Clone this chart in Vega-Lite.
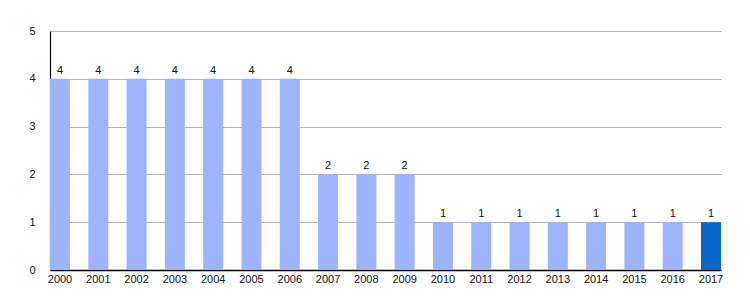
{
  "$schema": "https://vega.github.io/schema/vega-lite/v6.json",
  "width": 671,
  "height": 239,
  "autosize": {"type": "none"},
  "padding": {"left": 50, "top": 31, "right": 29, "bottom": 30},
  "background": "white",
  "config": {"view": {"stroke": null}, "font": "Liberation Sans"},
  "data": {
    "values": [
      {"year": "2000", "count": 4, "highlight": "no"},
      {"year": "2001", "count": 4, "highlight": "no"},
      {"year": "2002", "count": 4, "highlight": "no"},
      {"year": "2003", "count": 4, "highlight": "no"},
      {"year": "2004", "count": 4, "highlight": "no"},
      {"year": "2005", "count": 4, "highlight": "no"},
      {"year": "2006", "count": 4, "highlight": "no"},
      {"year": "2007", "count": 2, "highlight": "no"},
      {"year": "2008", "count": 2, "highlight": "no"},
      {"year": "2009", "count": 2, "highlight": "no"},
      {"year": "2010", "count": 1, "highlight": "no"},
      {"year": "2011", "count": 1, "highlight": "no"},
      {"year": "2012", "count": 1, "highlight": "no"},
      {"year": "2013", "count": 1, "highlight": "no"},
      {"year": "2014", "count": 1, "highlight": "no"},
      {"year": "2015", "count": 1, "highlight": "no"},
      {"year": "2016", "count": 1, "highlight": "no"},
      {"year": "2017", "count": 1, "highlight": "yes"}
    ]
  },
  "encoding": {
    "x": {
      "field": "year", "type": "ordinal",
      "scale": {"paddingInner": 0.478, "paddingOuter": 0},
      "axis": {"title": null, "labelAngle": 0, "ticks": false, "labelPadding": 3, "labelFontSize": 11, "labelColor": "#111", "domainColor": "#000", "domainWidth": 1.5, "grid": false}
    },
    "y": {
      "field": "count", "type": "quantitative",
      "scale": {"domain": [0, 5], "nice": false},
      "axis": {"title": null, "values": [0, 1, 2, 3, 4, 5], "labelOverlap": false, "ticks": false, "labelPadding": 15, "labelFontSize": 11, "labelColor": "#111", "domainColor": "#000", "domainWidth": 1.2, "grid": true, "gridColor": "#b3b3b3", "gridWidth": 1}
    }
  },
  "layer": [
    {
      "mark": {"type": "bar"},
      "encoding": {
        "color": {"field": "highlight", "type": "nominal", "scale": {"domain": ["no", "yes"], "range": ["#9db4fc", "#0a66c8"]}, "legend": null}
      }
    },
    {
      "mark": {"type": "text", "baseline": "bottom", "dy": -3, "fontSize": 11, "color": "#111"},
      "encoding": {"text": {"field": "count", "type": "quantitative"}}
    }
  ]
}
